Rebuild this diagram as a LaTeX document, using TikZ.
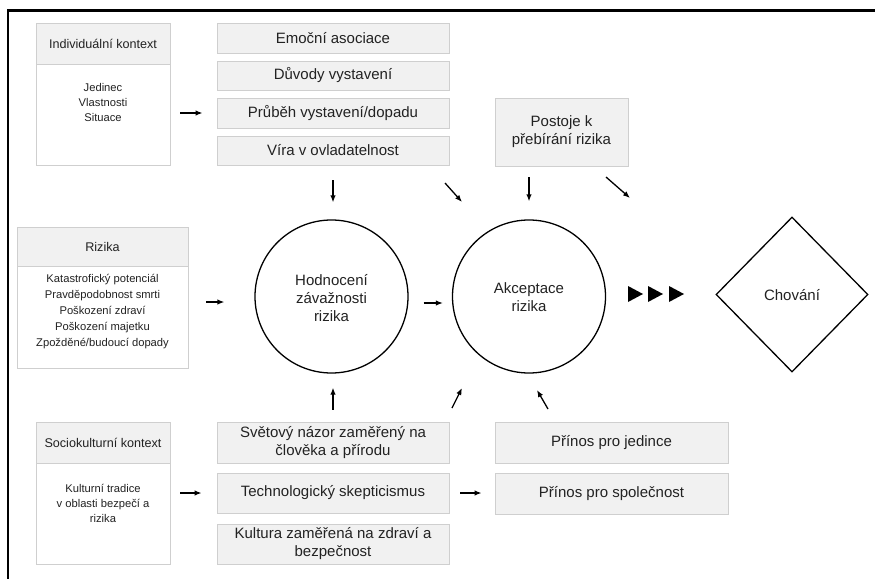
\documentclass[tikz,border=0pt]{standalone}
\usepackage{fontspec}
\setmainfont{Liberation Sans}
\usetikzlibrary{arrows.meta,shapes.geometric}
\definecolor{boxfill}{HTML}{F1F1F1}
\definecolor{boxline}{HTML}{CFCFCF}
\definecolor{txt}{HTML}{222222}
\tikzset{
 graybox/.style={draw=boxline, fill=boxfill, line width=0.9pt, inner sep=0pt, text=txt, align=center, font=\fontsize{15}{18}\selectfont},
 hdrbox/.style={draw=boxline, fill=boxfill, line width=0.9pt, inner sep=0pt, text=txt, font=\fontsize{12.6}{15}\selectfont},
 bodybox/.style={draw=boxline, fill=white, line width=0.9pt, inner sep=0pt},
 bodytext/.style={text=txt, align=center, inner sep=0pt, font=\fontsize{11.2}{15}\selectfont},
 bigcircle/.style={circle, draw=black, line width=1.3pt, minimum size=153pt, inner sep=0pt},
 bigtext/.style={text=txt, align=center, inner sep=0pt, font=\fontsize{15}{18}\selectfont},
 arr/.style={-{Latex[length=7pt,width=5.5pt]}, line width=1.3pt, black},
 framelines/.style={line width=2.3pt, black, line join=miter},
}
\begin{document}
\begin{tikzpicture}[x=1pt,y=-1pt]
\useasboundingbox (0,0) rectangle (875,578);
\draw[framelines] (8,580) -- (8,10.5) -- (877,10.5);

% Individualni kontext
\node[bodybox, minimum width=134pt, minimum height=101pt] (indb) at (103,114.5) {};
\node[hdrbox, minimum width=134pt, minimum height=41pt] (indh) at (103,43.5) {Individuální kontext};
\node[bodytext] (indt) at (103,102) {Jedinec\\Vlastnosti\\Situace};

% Rizika
\node[bodybox, minimum width=171pt, minimum height=102pt] (rizb) at (102.5,317) {};
\node[hdrbox, minimum width=171pt, minimum height=39pt] (rizh) at (102.5,246.5) {Rizika};
\node[bodytext, font=\fontsize{11.2}{16}\selectfont] (rizt) at (102.5,312) {Katastrofický potenciál\\Pravděpodobnost smrti\\Poškození zdraví\\Poškození majetku\\Zpožděné/budoucí dopady};

% Sociokulturni kontext
\node[bodybox, minimum width=134pt, minimum height=101pt] (socb) at (103,513.5) {};
\node[hdrbox, minimum width=134pt, minimum height=41pt] (soch) at (103,442.5) {Sociokulturní kontext};
\node[bodytext] (soct) at (103,503) {Kulturní tradice\\v oblasti bezpečí a\\rizika};

% top column
\node[graybox, minimum width=232pt, minimum height=30pt] (emo) at (333,38) {Emoční asociace};
\node[graybox, minimum width=232pt, minimum height=29pt] (duv) at (333,75.5) {Důvody vystavení};
\node[graybox, minimum width=232pt, minimum height=30pt] (prub) at (333,113) {Průběh vystavení/dopadu};
\node[graybox, minimum width=232pt, minimum height=29pt] (vira) at (333,150.5) {Víra v ovladatelnost};

\node[graybox, minimum width=133pt, minimum height=68pt] (postoje) at (561.5,132) {Postoje k\\přebírání rizika};

% bottom column
\node[graybox, minimum width=232pt, minimum height=41pt] (svet) at (333,442.5) {Světový názor zaměřený na\\člověka a přírodu};
\node[graybox, minimum width=232pt, minimum height=40pt] (tech) at (333,493) {Technologický skepticismus};
\node[graybox, minimum width=232pt, minimum height=40pt] (kult) at (333,544) {Kultura zaměřená na zdraví a\\bezpečnost};

\node[graybox, minimum width=233pt, minimum height=41pt] (prj) at (611.5,442.5) {Přínos pro jedince};
\node[graybox, minimum width=233pt, minimum height=41pt] (prs) at (611.5,493.5) {Přínos pro společnost};

% circles and diamond
\node[bigcircle] (hod) at (331.5,296.5) {};
\node[bigtext] (hodt) at (331.5,298) {Hodnocení\\závažnosti\\rizika};
\node[bigcircle] (akz) at (529,296.5) {};
\node[bigtext] (akzt) at (529,297.5) {Akceptace\\rizika};
\node[diamond, draw=black, line width=1.3pt, minimum width=152pt, minimum height=155pt, inner sep=0pt] (chov) at (792,294.5) {};
\node[bigtext] (chovt) at (792,295.5) {Chování};

% triangles
\fill[black] (628,286) -- (643,294) -- (628,302) -- cycle;
\fill[black] (648,286) -- (663,294) -- (648,302) -- cycle;
\fill[black] (669,286) -- (684,294) -- (669,302) -- cycle;

% arrows
\draw[arr, shorten <=10pt, shorten >=14pt] (indb.east |- prub.west) -- (prub.west);
\draw[arr, shorten <=18pt, shorten >=30pt] (rizb.east |- 0,302) -- (hod.west |- 0,302);
\draw[arr, shorten <=15pt, shorten >=9pt] (hod.east |- 0,303) -- (akz.west |- 0,303);
\draw[arr, shorten <=15pt, shorten >=17pt] (vira.south) -- (vira.south |- hod.north);
\draw[arr, shorten <=12pt, shorten >=14pt] (svet.north) -- (svet.north |- hod.south);
\draw[arr, shorten <=11pt, shorten >=18pt] (akz.north |- postoje.south) -- (akz.north);
\draw[arr, shorten <=11pt, shorten >=13pt] (tech.east) -- (prs.west |- tech.east);
\draw[arr, shorten <=10pt, shorten >=15pt] (socb.east |- tech.west) -- (tech.west);

\coordinate (d1s) at (445,183); \coordinate (d1e) at (462,202);
\coordinate (d2s) at (606,177); \coordinate (d2e) at (630,198);
\coordinate (d3s) at (452,408); \coordinate (d3e) at (462,388);
\coordinate (d4s) at (548,409); \coordinate (d4e) at (537,390);
\draw[arr] (d1s) -- (d1e);
\draw[arr] (d2s) -- (d2e);
\draw[arr] (d3s) -- (d3e);
\draw[arr] (d4s) -- (d4e);
\end{tikzpicture}
\end{document}
